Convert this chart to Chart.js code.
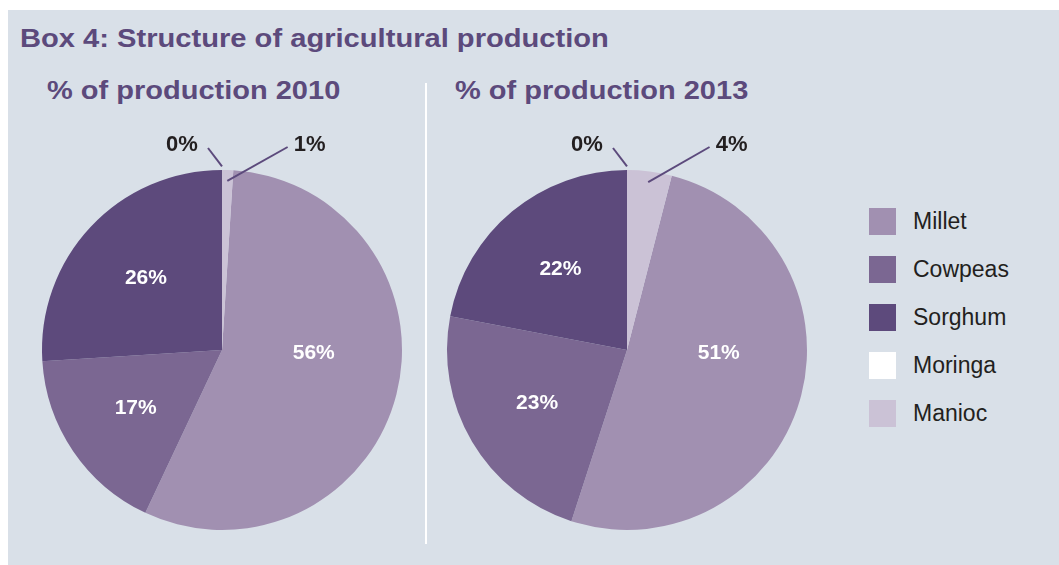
<!DOCTYPE html>
<html>
<head>
<meta charset="utf-8">
<script src="https://cdn.jsdelivr.net/npm/chart.js@4.4.0/dist/chart.umd.min.js"></script>
<style>
  body { margin: 0; width: 1059px; height: 565px; overflow: hidden; background: #fff; position: relative;
         font-family: "Liberation Sans", Arial, sans-serif; }
  #box { position: absolute; left: 8px; top: 10px; right: 0; bottom: 0; background: #d9e0e8; }
  .title { position: absolute; color: #5c4a7c; font-weight: bold; line-height: 1; white-space: nowrap;
           transform-origin: left top; }
  .main { font-size: 26px; transform: scaleX(1.12); }
  .sub { font-size: 25px; transform: scaleX(1.16); }
  .pie { position: absolute; top: 120px; width: 400px; height: 420px; }
  #divider { position: absolute; left: 425px; top: 83px; width: 2px; height: 461px; background: #fff; }
  #legend { position: absolute; left: 869px; top: 208px; }
  .item { display: flex; align-items: center; height: 27px; margin-bottom: 21px; }
  .swatch { width: 27px; height: 27px; margin-right: 17px; }
  .item span { font-size: 23px; color: #231f20; }
</style>
</head>
<body>
<div id="box"></div>
<div class="title main" style="left:20px; top:25px;">Box 4: Structure of agricultural production</div>
<div class="title sub" style="left:47px; top:78px;">% of production 2010</div>
<div class="title sub" style="left:455px; top:78px;">% of production 2013</div>
<div id="divider"></div>
<div class="pie" style="left:22px;"><canvas id="pie2010" width="400" height="420"></canvas></div>
<div class="pie" style="left:427px;"><canvas id="pie2013" width="400" height="420"></canvas></div>
<div id="legend"></div>

<script>
// Data
const crops = ["Millet", "Cowpeas", "Sorghum", "Moringa", "Manioc"];
const share2010 = [56, 17, 26, 0, 1];
const share2013 = [51, 23, 22, 0, 4];
const cropColors = ["#a190b1", "#7b6792", "#5d4a7c", "#ffffff", "#cbc2d6"];

const labelFont = '"Liberation Sans", Arial, sans-serif';

// Percent labels: inside for big slices, outside with a leader line for small ones
const pieLabels = {
    id: "pieLabels",
    afterDatasetsDraw(chart) {
        const ctx = chart.ctx;
        const values = chart.data.datasets[0].data;
        const twoPi = Math.PI * 2;
        chart.getDatasetMeta(0).data.forEach((arc, i) => {
            const p = arc.getProps(["x", "y", "startAngle", "endAngle", "outerRadius"], true);
            const v = values[i];
            const text = v + "%";
            const R = p.outerRadius;
            const mid = (p.startAngle + p.endAngle) / 2;
            ctx.save();
            ctx.textAlign = "center";
            ctx.textBaseline = "middle";
            if (v > 5) {
                let a = mid, r = R * 0.58;
                // slice covering 3 o'clock gets its label on the horizontal
                if ((p.startAngle <= 0 && p.endAngle >= 0) || (p.startAngle <= twoPi && p.endAngle >= twoPi)) {
                    a = 0.03;
                    r = R * 0.51;
                }
                ctx.fillStyle = "#ffffff";
                ctx.font = "bold 21px " + labelFont;
                ctx.fillText(text, p.x + r * Math.cos(a), p.y + r * Math.sin(a));
            } else {
                const fromTop = ((mid + Math.PI / 2) % twoPi + twoPi) % twoPi;
                const left = fromTop < 0.01 || fromTop > twoPi - 0.01 || fromTop > Math.PI;
                const ex = p.x + R * Math.cos(mid);
                const ty = p.y - R - 25;
                let tx, sx, sy, ax, ay;
                if (left) {
                    tx = ex - 40;
                    sx = tx + 26; sy = ty + 3;
                    ax = p.x + 1.02 * R * Math.cos(mid); ay = p.y + 1.02 * R * Math.sin(mid);
                } else {
                    tx = ex + 82;
                    sx = tx - 22; sy = ty + 2;
                    ax = p.x + 0.94 * R * Math.cos(mid); ay = p.y + 0.94 * R * Math.sin(mid);
                }
                ctx.strokeStyle = "#5c4a7c";
                ctx.lineWidth = 2;
                ctx.beginPath();
                ctx.moveTo(sx, sy);
                ctx.lineTo(ax, ay);
                ctx.stroke();
                ctx.fillStyle = "#231f20";
                ctx.font = "bold 22px " + labelFont;
                ctx.fillText(text, tx, ty);
            }
            ctx.restore();
        });
    }
};

function makePie(id, values) {
    // Manioc (last slice) sits just right of 12 o'clock, Millet follows it
    const total = values.reduce((a, b) => a + b, 0);
    const rotation = values[values.length - 1] / total * 360;
    return new Chart(document.getElementById(id), {
        type: "pie",
        data: {
            labels: crops,
            datasets: [{
                data: values,
                backgroundColor: cropColors,
                borderWidth: 0
            }]
        },
        options: {
            responsive: false,
            animation: false,
            rotation: rotation,
            layout: { padding: { top: 50, bottom: 10, left: 20, right: 20 } },
            plugins: {
                legend: { display: false },
                tooltip: { enabled: false }
            }
        },
        plugins: [pieLabels]
    });
}

makePie("pie2010", share2010);
makePie("pie2013", share2013);

// Legend
const legendElem = document.getElementById("legend");
crops.forEach((crop, i) => {
    const item = document.createElement("div");
    item.className = "item";
    item.innerHTML = `<div class="swatch" style="background:${cropColors[i]}"></div><span>${crop}</span>`;
    legendElem.appendChild(item);
});
</script>
</body>
</html>
